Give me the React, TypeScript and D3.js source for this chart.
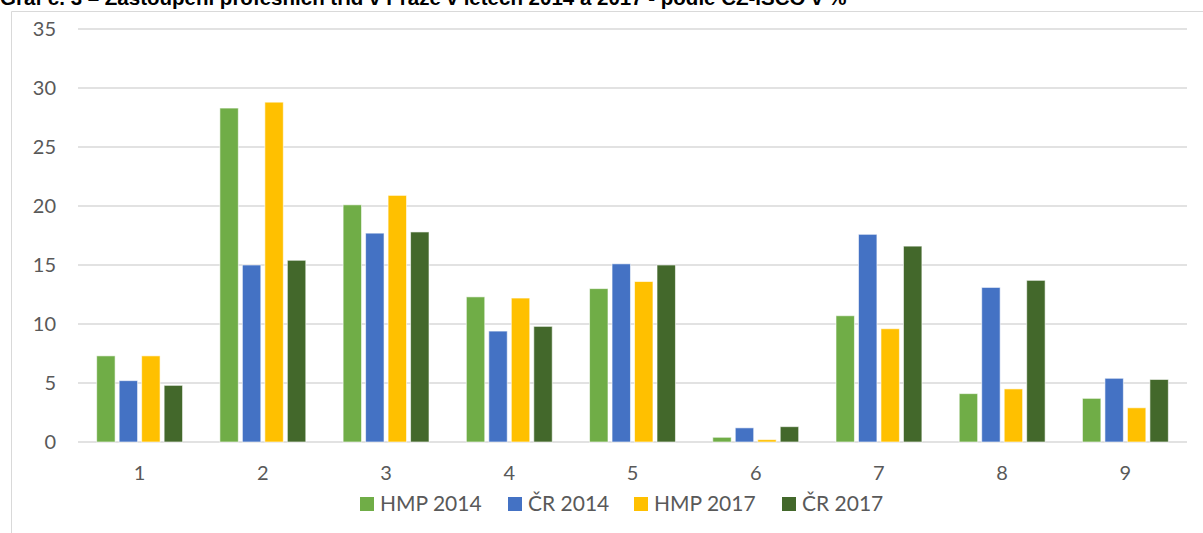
import * as d3 from "d3";

const categories = ["1", "2", "3", "4", "5", "6", "7", "8", "9"];
const series = ["HMP 2014", "ČR 2014", "HMP 2017", "ČR 2017"];
const hmp2014 = [7.3, 28.3, 20.1, 12.3, 13.0, 0.4, 10.7, 4.1, 3.7];
const cr2014 = [5.2, 15.0, 17.7, 9.4, 15.1, 1.2, 17.6, 13.1, 5.4];
const hmp2017 = [7.3, 28.8, 20.9, 12.2, 13.6, 0.2, 9.6, 4.5, 2.9];
const cr2017 = [4.8, 15.4, 17.8, 9.8, 15.0, 1.3, 16.6, 13.7, 5.3];
const colors = ["#70ad47", "#4472c4", "#ffc000", "#43682b"];
const yTicks = [0, 5, 10, 15, 20, 25, 30, 35];
const title = "Graf č. 3 – Zastoupení profesních tříd v Praze v letech 2014 a 2017 - podle CZ-ISCO v %";

export default function App() {
  const width = 1203;
  const height = 533;
  const marginLeft = 78;
  const marginRight = 16;
  const marginTop = 29;
  const bottom = 442;
  const values = [hmp2014, cr2014, hmp2017, cr2017];
  const font = "Lato, 'Open Sans', sans-serif";

  const x = d3.scaleBand()
    .domain(categories)
    .range([marginLeft, width - marginRight])
    .paddingInner(0.27)
    .paddingOuter(0.135);

  const xs = d3.scaleBand()
    .domain(series)
    .range([0, x.bandwidth()])
    .paddingInner(0.18)
    .paddingOuter(0.09);

  const y = d3.scaleLinear().domain([0, 35]).range([bottom, marginTop]);

  // legend layout
  const legendX = [360, 508, 634, 782];

  return (
    <svg width={width} height={height} style={{ position: "absolute", left: 0, top: 0, background: "#fff" }}>
      <text x={0} y={5} fontFamily="'Liberation Sans', Arial, sans-serif" fontWeight="bold" fontSize={20.5} fill="#000">
        {title}
      </text>

      {/* frame */}
      <line x1={11.5} x2={width} y1={11.5} y2={11.5} stroke="#d9d9d9" />
      <line x1={11.5} x2={11.5} y1={11.5} y2={height} stroke="#d9d9d9" />

      {/* gridlines */}
      <g>
        {yTicks.map(t => (
          <g key={t}>
            <line x1={marginLeft} x2={width - marginRight} y1={y(t)} y2={y(t)} stroke="#d9d9d9" strokeWidth={1.3} />
            <text x={56} y={y(t)} dy="0.35em" textAnchor="end" fontFamily={font} fontSize={20} fill="#595959">{t}</text>
          </g>
        ))}
      </g>

      {/* bars */}
      {categories.map((c, i) => (
        <g key={c} transform={`translate(${x(c)},0)`}>
          {series.map((s, j) => (
            <rect
              key={s}
              x={xs(s)}
              y={y(values[j][i])}
              width={xs.bandwidth()}
              height={y(0) - y(values[j][i])}
              fill={colors[j]}
              stroke="#fff"
              strokeOpacity={0.6}
              strokeWidth={1}
            />
          ))}
          <text x={x.bandwidth() / 2} y={473} dy="0.35em" textAnchor="middle" fontFamily={font} fontSize={20} fill="#595959">{c}</text>
        </g>
      ))}

      {/* legend */}
      {series.map((s, j) => (
        <g key={s} transform={`translate(${legendX[j]},504)`}>
          <rect x={0} y={-7} width={14} height={14} fill={colors[j]} />
          <text x={20} y={0} dy="0.35em" fontFamily={font} fontSize={21} fill="#595959">{s}</text>
        </g>
      ))}
    </svg>
  );
}
